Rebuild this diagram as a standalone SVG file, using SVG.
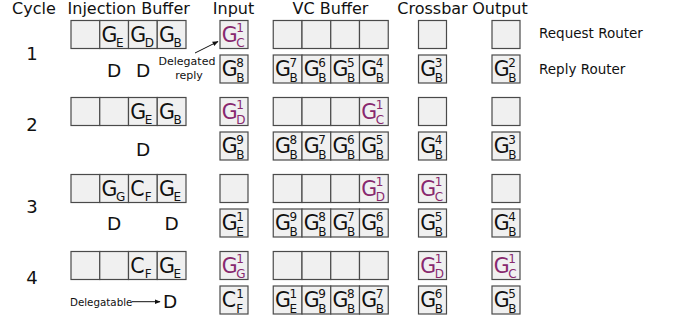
<svg xmlns="http://www.w3.org/2000/svg" width="688" height="321" viewBox="0 0 688 321">
<defs>
<style>
.bx{fill:#f0f0f0;stroke:#4a4a4a;stroke-width:1.2}
.t{font-family:"DejaVu Sans",Verdana,sans-serif;fill:#111}
.g{font-family:"DejaVu Sans",Verdana,sans-serif;font-size:20.5px;fill:#111}
.p{fill:#88286e}
.s{font-size:12px}
.h{font-size:16px}
.lbl{font-size:13.5px}
.cy{font-size:18px}
.d{font-size:18.5px}
.sm{font-size:11px}
.ln{stroke:#111;stroke-width:1;fill:none}
</style>
<marker id="ah" viewBox="0 0 10 10" refX="9" refY="5" markerWidth="6" markerHeight="6" orient="auto"><path d="M0,1 L10,5 L0,9 z" fill="#111"/></marker>
</defs>
<rect width="688" height="321" fill="#fff"/>
<g id="headers" class="t h">
<text x="12" y="14">Cycle</text>
<text x="128.7" y="14" text-anchor="middle">Injection Buffer</text>
<text x="233.5" y="14" text-anchor="middle">Input</text>
<text x="330.5" y="14" text-anchor="middle">VC Buffer</text>
<text x="432.5" y="14" text-anchor="middle">Crossbar</text>
<text x="500" y="14" text-anchor="middle">Output</text>
</g>
<g id="row-labels" class="t lbl">
<text x="539" y="38">Request Router</text>
<text x="539" y="74">Reply Router</text>
</g>
<g id="cycle-numbers" class="t cy" text-anchor="middle">
<text x="32" y="60">1</text>
<text x="32" y="131">2</text>
<text x="32" y="213">3</text>
<text x="32" y="284">4</text>
</g>

<!-- Cycle 1 -->
<g id="c1">
<g id="c1-inj">
<rect class="bx" x="71" y="20.5" width="28.75" height="28"/>
<rect class="bx" x="99.75" y="20.5" width="28.75" height="28"/>
<rect class="bx" x="128.5" y="20.5" width="28.75" height="28"/>
<rect class="bx" x="157.25" y="20.5" width="28.75" height="28"/>
<text class="g" x="101.55" y="41.5">G<tspan class="s" x="116.05" y="47">E</tspan></text>
<text class="g" x="130.3" y="41.5">G<tspan class="s" x="144.8" y="47">D</tspan></text>
<text class="g" x="159.05" y="41.5">G<tspan class="s" x="173.55" y="47">B</tspan></text>
<text class="t d" x="114" y="76.5" text-anchor="middle">D</text>
<text class="t d" x="143" y="76.5" text-anchor="middle">D</text>
</g>
<g id="c1-req">
<rect class="bx" x="220" y="20.5" width="28" height="28"/>
<text class="g p" x="221.8" y="41.5">G<tspan class="s" x="236.3" y="47">C</tspan><tspan class="s" x="236.3" y="32">1</tspan></text>
<rect class="bx" x="273.25" y="20.5" width="28.75" height="28"/>
<rect class="bx" x="302" y="20.5" width="28.75" height="28"/>
<rect class="bx" x="330.75" y="20.5" width="28.75" height="28"/>
<rect class="bx" x="359.5" y="20.5" width="28.75" height="28"/>
<rect class="bx" x="418.5" y="20.5" width="28" height="28"/>
<rect class="bx" x="492" y="20.5" width="28" height="28"/>
</g>
<g id="c1-rep">
<rect class="bx" x="220" y="55" width="28" height="28"/>
<text class="g" x="221.8" y="76">G<tspan class="s" x="236.3" y="81.5">B</tspan><tspan class="s" x="236.3" y="66.5">8</tspan></text>
<rect class="bx" x="273.25" y="55" width="28.75" height="28"/>
<rect class="bx" x="302" y="55" width="28.75" height="28"/>
<rect class="bx" x="330.75" y="55" width="28.75" height="28"/>
<rect class="bx" x="359.5" y="55" width="28.75" height="28"/>
<text class="g" x="275.05" y="76">G<tspan class="s" x="289.55" y="81.5">B</tspan><tspan class="s" x="289.55" y="66.5">7</tspan></text>
<text class="g" x="303.8" y="76">G<tspan class="s" x="318.3" y="81.5">B</tspan><tspan class="s" x="318.3" y="66.5">6</tspan></text>
<text class="g" x="332.55" y="76">G<tspan class="s" x="347.05" y="81.5">B</tspan><tspan class="s" x="347.05" y="66.5">5</tspan></text>
<text class="g" x="361.3" y="76">G<tspan class="s" x="375.8" y="81.5">B</tspan><tspan class="s" x="375.8" y="66.5">4</tspan></text>
<rect class="bx" x="418.5" y="55" width="28" height="28"/>
<text class="g" x="420.3" y="76">G<tspan class="s" x="434.8" y="81.5">B</tspan><tspan class="s" x="434.8" y="66.5">3</tspan></text>
<rect class="bx" x="492" y="55" width="28" height="28"/>
<text class="g" x="493.8" y="76">G<tspan class="s" x="508.3" y="81.5">B</tspan><tspan class="s" x="508.3" y="66.5">2</tspan></text>
</g>
<g id="c1-note" class="t sm" text-anchor="middle">
<text x="187" y="65">Delegated</text>
<text x="189" y="78.5">reply</text>
</g>
</g>

<!-- Cycle 2 -->
<g id="c2">
<g id="c2-inj">
<rect class="bx" x="71" y="97.5" width="28.75" height="28"/>
<rect class="bx" x="99.75" y="97.5" width="28.75" height="28"/>
<rect class="bx" x="128.5" y="97.5" width="28.75" height="28"/>
<rect class="bx" x="157.25" y="97.5" width="28.75" height="28"/>
<text class="g" x="130.3" y="118.5">G<tspan class="s" x="144.8" y="124">E</tspan></text>
<text class="g" x="159.05" y="118.5">G<tspan class="s" x="173.55" y="124">B</tspan></text>
<text class="t d" x="143" y="155.5" text-anchor="middle">D</text>
</g>
<g id="c2-req">
<rect class="bx" x="220" y="97.5" width="28" height="28"/>
<text class="g p" x="221.8" y="118.5">G<tspan class="s" x="236.3" y="124">D</tspan><tspan class="s" x="236.3" y="109">1</tspan></text>
<rect class="bx" x="273.25" y="97.5" width="28.75" height="28"/>
<rect class="bx" x="302" y="97.5" width="28.75" height="28"/>
<rect class="bx" x="330.75" y="97.5" width="28.75" height="28"/>
<rect class="bx" x="359.5" y="97.5" width="28.75" height="28"/>
<text class="g p" x="361.3" y="118.5">G<tspan class="s" x="375.8" y="124">C</tspan><tspan class="s" x="375.8" y="109">1</tspan></text>
<rect class="bx" x="418.5" y="97.5" width="28" height="28"/>
<rect class="bx" x="492" y="97.5" width="28" height="28"/>
</g>
<g id="c2-rep">
<rect class="bx" x="220" y="132" width="28" height="28"/>
<text class="g" x="221.8" y="153">G<tspan class="s" x="236.3" y="158.5">B</tspan><tspan class="s" x="236.3" y="143.5">9</tspan></text>
<rect class="bx" x="273.25" y="132" width="28.75" height="28"/>
<rect class="bx" x="302" y="132" width="28.75" height="28"/>
<rect class="bx" x="330.75" y="132" width="28.75" height="28"/>
<rect class="bx" x="359.5" y="132" width="28.75" height="28"/>
<text class="g" x="275.05" y="153">G<tspan class="s" x="289.55" y="158.5">B</tspan><tspan class="s" x="289.55" y="143.5">8</tspan></text>
<text class="g" x="303.8" y="153">G<tspan class="s" x="318.3" y="158.5">B</tspan><tspan class="s" x="318.3" y="143.5">7</tspan></text>
<text class="g" x="332.55" y="153">G<tspan class="s" x="347.05" y="158.5">B</tspan><tspan class="s" x="347.05" y="143.5">6</tspan></text>
<text class="g" x="361.3" y="153">G<tspan class="s" x="375.8" y="158.5">B</tspan><tspan class="s" x="375.8" y="143.5">5</tspan></text>
<rect class="bx" x="418.5" y="132" width="28" height="28"/>
<text class="g" x="420.3" y="153">G<tspan class="s" x="434.8" y="158.5">B</tspan><tspan class="s" x="434.8" y="143.5">4</tspan></text>
<rect class="bx" x="492" y="132" width="28" height="28"/>
<text class="g" x="493.8" y="153">G<tspan class="s" x="508.3" y="158.5">B</tspan><tspan class="s" x="508.3" y="143.5">3</tspan></text>
</g>
</g>

<!-- Cycle 3 -->
<g id="c3">
<g id="c3-inj">
<rect class="bx" x="71" y="174.5" width="28.75" height="28"/>
<rect class="bx" x="99.75" y="174.5" width="28.75" height="28"/>
<rect class="bx" x="128.5" y="174.5" width="28.75" height="28"/>
<rect class="bx" x="157.25" y="174.5" width="28.75" height="28"/>
<text class="g" x="101.55" y="195.5">G<tspan class="s" x="116.05" y="201">G</tspan></text>
<text class="g" x="130.3" y="195.5">C<tspan class="s" x="144.8" y="201">F</tspan></text>
<text class="g" x="159.05" y="195.5">G<tspan class="s" x="173.55" y="201">E</tspan></text>
<text class="t d" x="114" y="229.5" text-anchor="middle">D</text>
<text class="t d" x="171.5" y="229.5" text-anchor="middle">D</text>
</g>
<g id="c3-req">
<rect class="bx" x="220" y="174.5" width="28" height="28"/>
<rect class="bx" x="273.25" y="174.5" width="28.75" height="28"/>
<rect class="bx" x="302" y="174.5" width="28.75" height="28"/>
<rect class="bx" x="330.75" y="174.5" width="28.75" height="28"/>
<rect class="bx" x="359.5" y="174.5" width="28.75" height="28"/>
<text class="g p" x="361.3" y="195.5">G<tspan class="s" x="375.8" y="201">D</tspan><tspan class="s" x="375.8" y="186">1</tspan></text>
<rect class="bx" x="418.5" y="174.5" width="28" height="28"/>
<text class="g p" x="420.3" y="195.5">G<tspan class="s" x="434.8" y="201">C</tspan><tspan class="s" x="434.8" y="186">1</tspan></text>
<rect class="bx" x="492" y="174.5" width="28" height="28"/>
</g>
<g id="c3-rep">
<rect class="bx" x="220" y="209" width="28" height="28"/>
<text class="g" x="221.8" y="230">G<tspan class="s" x="236.3" y="235.5">E</tspan><tspan class="s" x="236.3" y="220.5">1</tspan></text>
<rect class="bx" x="273.25" y="209" width="28.75" height="28"/>
<rect class="bx" x="302" y="209" width="28.75" height="28"/>
<rect class="bx" x="330.75" y="209" width="28.75" height="28"/>
<rect class="bx" x="359.5" y="209" width="28.75" height="28"/>
<text class="g" x="275.05" y="230">G<tspan class="s" x="289.55" y="235.5">B</tspan><tspan class="s" x="289.55" y="220.5">9</tspan></text>
<text class="g" x="303.8" y="230">G<tspan class="s" x="318.3" y="235.5">B</tspan><tspan class="s" x="318.3" y="220.5">8</tspan></text>
<text class="g" x="332.55" y="230">G<tspan class="s" x="347.05" y="235.5">B</tspan><tspan class="s" x="347.05" y="220.5">7</tspan></text>
<text class="g" x="361.3" y="230">G<tspan class="s" x="375.8" y="235.5">B</tspan><tspan class="s" x="375.8" y="220.5">6</tspan></text>
<rect class="bx" x="418.5" y="209" width="28" height="28"/>
<text class="g" x="420.3" y="230">G<tspan class="s" x="434.8" y="235.5">B</tspan><tspan class="s" x="434.8" y="220.5">5</tspan></text>
<rect class="bx" x="492" y="209" width="28" height="28"/>
<text class="g" x="493.8" y="230">G<tspan class="s" x="508.3" y="235.5">B</tspan><tspan class="s" x="508.3" y="220.5">4</tspan></text>
</g>
</g>

<!-- Cycle 4 -->
<g id="c4">
<g id="c4-inj">
<rect class="bx" x="71" y="251.5" width="28.75" height="28"/>
<rect class="bx" x="99.75" y="251.5" width="28.75" height="28"/>
<rect class="bx" x="128.5" y="251.5" width="28.75" height="28"/>
<rect class="bx" x="157.25" y="251.5" width="28.75" height="28"/>
<text class="g" x="130.3" y="272.5">C<tspan class="s" x="144.8" y="278">F</tspan></text>
<text class="g" x="159.05" y="272.5">G<tspan class="s" x="173.55" y="278">E</tspan></text>
<text class="t d" x="170" y="308.3" text-anchor="middle">D</text>
<text class="t" x="70" y="305.5" font-size="10.3">Delegatable</text>
</g>
<g id="c4-req">
<rect class="bx" x="220" y="251.5" width="28" height="28"/>
<text class="g p" x="221.8" y="272.5">G<tspan class="s" x="236.3" y="278">G</tspan><tspan class="s" x="236.3" y="263">1</tspan></text>
<rect class="bx" x="273.25" y="251.5" width="28.75" height="28"/>
<rect class="bx" x="302" y="251.5" width="28.75" height="28"/>
<rect class="bx" x="330.75" y="251.5" width="28.75" height="28"/>
<rect class="bx" x="359.5" y="251.5" width="28.75" height="28"/>
<rect class="bx" x="418.5" y="251.5" width="28" height="28"/>
<text class="g p" x="420.3" y="272.5">G<tspan class="s" x="434.8" y="278">D</tspan><tspan class="s" x="434.8" y="263">1</tspan></text>
<rect class="bx" x="492" y="251.5" width="28" height="28"/>
<text class="g p" x="493.8" y="272.5">G<tspan class="s" x="508.3" y="278">C</tspan><tspan class="s" x="508.3" y="263">1</tspan></text>
</g>
<g id="c4-rep">
<rect class="bx" x="220" y="286" width="28" height="28"/>
<text class="g" x="221.8" y="307">C<tspan class="s" x="236.3" y="312.5">F</tspan><tspan class="s" x="236.3" y="297.5">1</tspan></text>
<rect class="bx" x="273.25" y="286" width="28.75" height="28"/>
<rect class="bx" x="302" y="286" width="28.75" height="28"/>
<rect class="bx" x="330.75" y="286" width="28.75" height="28"/>
<rect class="bx" x="359.5" y="286" width="28.75" height="28"/>
<text class="g" x="275.05" y="307">G<tspan class="s" x="289.55" y="312.5">E</tspan><tspan class="s" x="289.55" y="297.5">1</tspan></text>
<text class="g" x="303.8" y="307">G<tspan class="s" x="318.3" y="312.5">B</tspan><tspan class="s" x="318.3" y="297.5">9</tspan></text>
<text class="g" x="332.55" y="307">G<tspan class="s" x="347.05" y="312.5">B</tspan><tspan class="s" x="347.05" y="297.5">8</tspan></text>
<text class="g" x="361.3" y="307">G<tspan class="s" x="375.8" y="312.5">B</tspan><tspan class="s" x="375.8" y="297.5">7</tspan></text>
<rect class="bx" x="418.5" y="286" width="28" height="28"/>
<text class="g" x="420.3" y="307">G<tspan class="s" x="434.8" y="312.5">B</tspan><tspan class="s" x="434.8" y="297.5">6</tspan></text>
<rect class="bx" x="492" y="286" width="28" height="28"/>
<text class="g" x="493.8" y="307">G<tspan class="s" x="508.3" y="312.5">B</tspan><tspan class="s" x="508.3" y="297.5">5</tspan></text>
</g>
</g>

<g id="connectors">
<line class="ln" x1="195" y1="53" x2="218" y2="41.5" marker-end="url(#ah)"/>
<line class="ln" x1="132" y1="301.7" x2="160" y2="301.7" marker-end="url(#ah)"/>
</g>
</svg>
